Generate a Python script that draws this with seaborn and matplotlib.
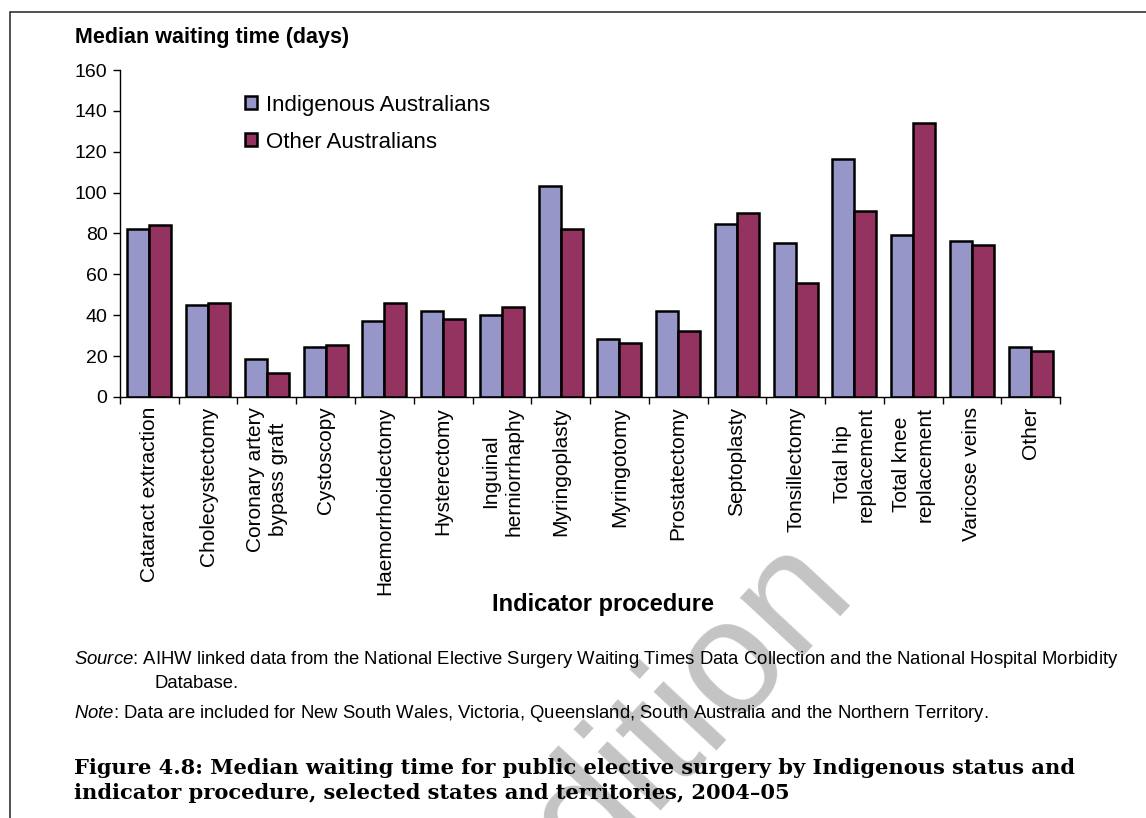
import pandas as pd
import seaborn as sns
import matplotlib.pyplot as plt
from matplotlib.patches import Rectangle

# Data
procedures = ["Cataract extraction", "Cholecystectomy", "Coronary artery\nbypass graft",
              "Cystoscopy", "Haemorrhoidectomy", "Hysterectomy", "Inguinal\nherniorrhaphy",
              "Myringoplasty", "Myringotomy", "Prostatectomy", "Septoplasty", "Tonsillectomy",
              "Total hip\nreplacement", "Total knee\nreplacement", "Varicose veins", "Other"]
indigenous = [82, 45, 18.5, 24.5, 37, 42, 40, 103, 28.5, 42, 84.5, 75.5, 116.5, 79.5, 76.5, 24.5]
other = [84, 46, 11.5, 25.5, 46, 38, 44, 82, 26.5, 32.5, 90, 56, 91, 134, 74.5, 22.5]
groups = ["Indigenous Australians", "Other Australians"]
y_ticks = [0, 20, 40, 60, 80, 100, 120, 140, 160]

df = pd.DataFrame({
    "procedure": procedures * 2,
    "days": indigenous + other,
    "group": [groups[0]] * len(procedures) + [groups[1]] * len(procedures),
})

sns.set_style("white")
plt.rcParams["font.family"] = ["Liberation Sans", "DejaVu Sans"]
plt.rcParams["text.color"] = "black"
plt.rcParams["xtick.color"] = "black"
plt.rcParams["ytick.color"] = "black"
plt.rcParams["mathtext.fontset"] = "custom"
plt.rcParams["mathtext.it"] = "Liberation Sans:italic"
plt.rcParams["mathtext.rm"] = "Liberation Sans"

fig = plt.figure(figsize=(11.46, 8.18), dpi=100)
ax = fig.add_axes([0.1047, 0.5147, 0.8203, 0.3997])

sns.barplot(data=df, x="procedure", y="days", hue="group", order=procedures,
            palette=["#9696C8", "#943360"], saturation=1, edgecolor="black", linewidth=1.8,
            width=0.75, gap=0, ax=ax)

ax.set_xlim(-0.5, len(procedures) - 0.5)
ax.set_ylim(0, 160)
ax.set_yticks(y_ticks)
ax.tick_params(axis="y", labelsize=14, length=5, width=1, left=True, pad=4)
ax.set_xticks(range(len(procedures)))
ax.set_xticklabels(procedures, rotation=90, fontsize=15, va="top", ha="center",
                   multialignment="center", linespacing=1.3)
ax.tick_params(axis="x", which="major", length=0, pad=7)
ax.set_xticks([i - 0.5 for i in range(len(procedures) + 1)], minor=True)
ax.tick_params(axis="x", which="minor", length=5, width=1, bottom=True)
ax.set_xlabel("")
ax.set_ylabel("")
for s in ["top", "right"]:
    ax.spines[s].set_visible(False)
for s in ["left", "bottom"]:
    ax.spines[s].set_color("black")
    ax.spines[s].set_linewidth(1)

ax.legend(loc="upper left", bbox_to_anchor=(0.133, 0.925), frameon=False, fontsize=16,
          labelspacing=0.72, handlelength=0.55, handleheight=0.55, handletextpad=0.4,
          borderaxespad=0, borderpad=0)

# Texts around the plot
fig.text(75 / 1146, 1 - 38 / 818, "Median waiting time (days)", fontsize=15.5,
         fontweight="bold", va="center", ha="left")
fig.text(603 / 1146, 1 - 604 / 818, "Indicator procedure", fontsize=17,
         fontweight="bold", va="center", ha="center")

fig.text(74 / 1146, 1 - 660 / 818,
         r"$\it{Source}$: AIHW linked data from the National Elective Surgery Waiting Times "
         "Data Collection and the National Hospital Morbidity", fontsize=13.3, va="center")
fig.text(154 / 1146, 1 - 684 / 818, "Database.", fontsize=13.3, va="center")
fig.text(74 / 1146, 1 - 714 / 818,
         r"$\it{Note}$: Data are included for New South Wales, Victoria, Queensland, "
         "South Australia and the Northern Territory.", fontsize=13.3, va="center")

fig.text(74 / 1146, 1 - 768 / 818,
         "Figure 4.8: Median waiting time for public elective surgery by Indigenous status and",
         fontsize=15.1, fontweight="bold", family=["DejaVu Serif"], va="center")
fig.text(74 / 1146, 1 - 793 / 818,
         "indicator procedure, selected states and territories, 2004\u201305",
         fontsize=15.1, fontweight="bold", family=["DejaVu Serif"], va="center")

# watermark (runs off the bottom edge, as in the reference)
fig.text(660 / 1146, 1 - 740 / 818, "edition", fontsize=118, color="#c4c4c4",
         rotation=47, ha="center", va="center", zorder=-1)

# frame around the figure
fig.patches.append(Rectangle((10 / 1146, -0.1), 1.2, 1 - 12 / 818 + 0.1,
                             transform=fig.transFigure, fill=False,
                             edgecolor="#333333", linewidth=1.2, zorder=-2))

fig.savefig("out.png", dpi=100)
